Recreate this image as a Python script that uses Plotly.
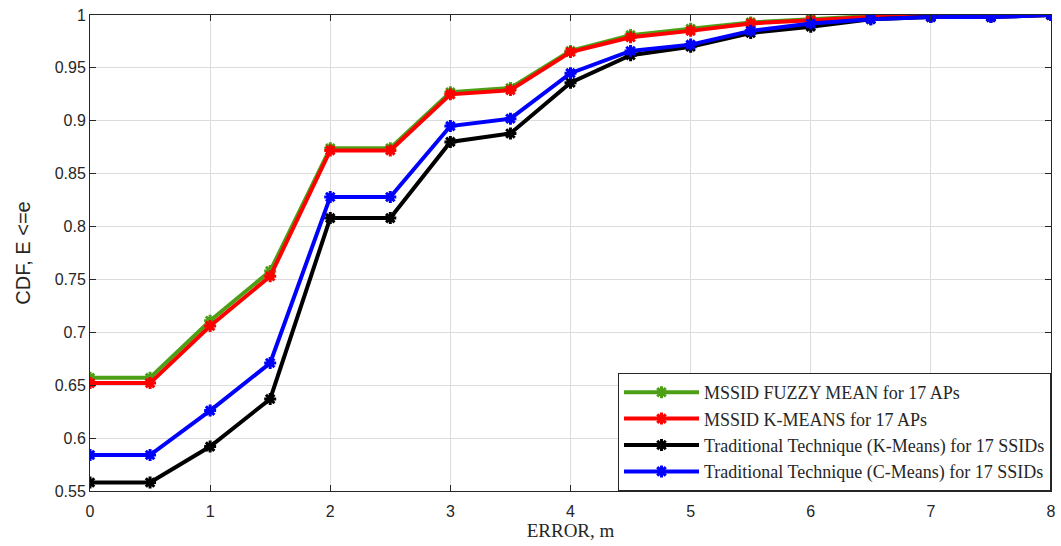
import plotly.graph_objects as go

error_m = [0, 0.5, 1, 1.5, 2, 2.5, 3, 3.5, 4, 4.5, 5, 5.5, 6, 6.5, 7, 7.5, 8]
fuzzy_mean = [0.657, 0.657, 0.711, 0.758, 0.874, 0.874, 0.927, 0.931, 0.966, 0.981, 0.987, 0.993, 0.996, 0.999, 1.0, 1.0, 1.0]
k_means = [0.652, 0.652, 0.706, 0.753, 0.872, 0.872, 0.925, 0.929, 0.965, 0.979, 0.985, 0.992, 0.995, 0.998, 0.999, 0.999, 1.0]
trad_kmeans = [0.558, 0.558, 0.592, 0.637, 0.808, 0.808, 0.880, 0.888, 0.936, 0.962, 0.970, 0.983, 0.989, 0.996, 0.998, 0.998, 1.0]
trad_cmeans = [0.584, 0.584, 0.626, 0.671, 0.828, 0.828, 0.895, 0.902, 0.945, 0.966, 0.972, 0.985, 0.992, 0.996, 0.998, 0.998, 1.0]
x_ticks = [0, 1, 2, 3, 4, 5, 6, 7, 8]

series = [
    ("MSSID FUZZY MEAN for 17 APs", fuzzy_mean, "#4da016"),
    ("MSSID K-MEANS for 17 APs", k_means, "#ff0000"),
    ("Traditional Technique (K-Means) for 17 SSIDs", trad_kmeans, "#000000"),
    ("Traditional Technique (C-Means) for 17 SSIDs", trad_cmeans, "#0000ff"),
]

fig = go.Figure()
for name, vals, col in series:
    fig.add_trace(go.Scatter(
        x=error_m, y=vals, name=name, mode="lines+markers",
        line=dict(color=col, width=4),
        marker=dict(symbol="asterisk-open", size=10, color=col,
                    line=dict(color=col, width=3)),
    ))

axis_common = dict(
    showgrid=True, gridcolor="#dcdcdc", gridwidth=1,
    ticks="inside", ticklen=6, tickcolor="#262626",
    showline=True, linecolor="#262626", linewidth=1, mirror="allticks",
    zeroline=False, ticklabeloverflow="allow",
    tickfont=dict(family="Liberation Sans, Arial", size=16, color="#262626"),
)

fig.update_layout(
    width=1061, height=546,
    margin=dict(l=90, r=5, t=15, b=55),
    paper_bgcolor="white", plot_bgcolor="white",
    xaxis=dict(range=[0, 8], tickvals=x_ticks, ticklabelstandoff=6,
               title=dict(text="ERROR, m", standoff=4,
                          font=dict(family="Liberation Serif, Times New Roman", size=19, color="#262626")),
               **axis_common),
    yaxis=dict(range=[0.55, 1.0], dtick=0.05, tickformat="~g",
               title=dict(text="CDF, E <=e", standoff=18,
                          font=dict(family="Liberation Sans, Arial", size=20, color="#262626")),
               **axis_common),
    legend=dict(x=1, y=0, xanchor="right", yanchor="bottom",
                bordercolor="#262626", borderwidth=1, bgcolor="white",
                font=dict(family="Liberation Serif, Times New Roman", size=18, color="#262626"),
                tracegroupgap=0, itemwidth=75),
    showlegend=True,
)

fig.write_html("out.html")
